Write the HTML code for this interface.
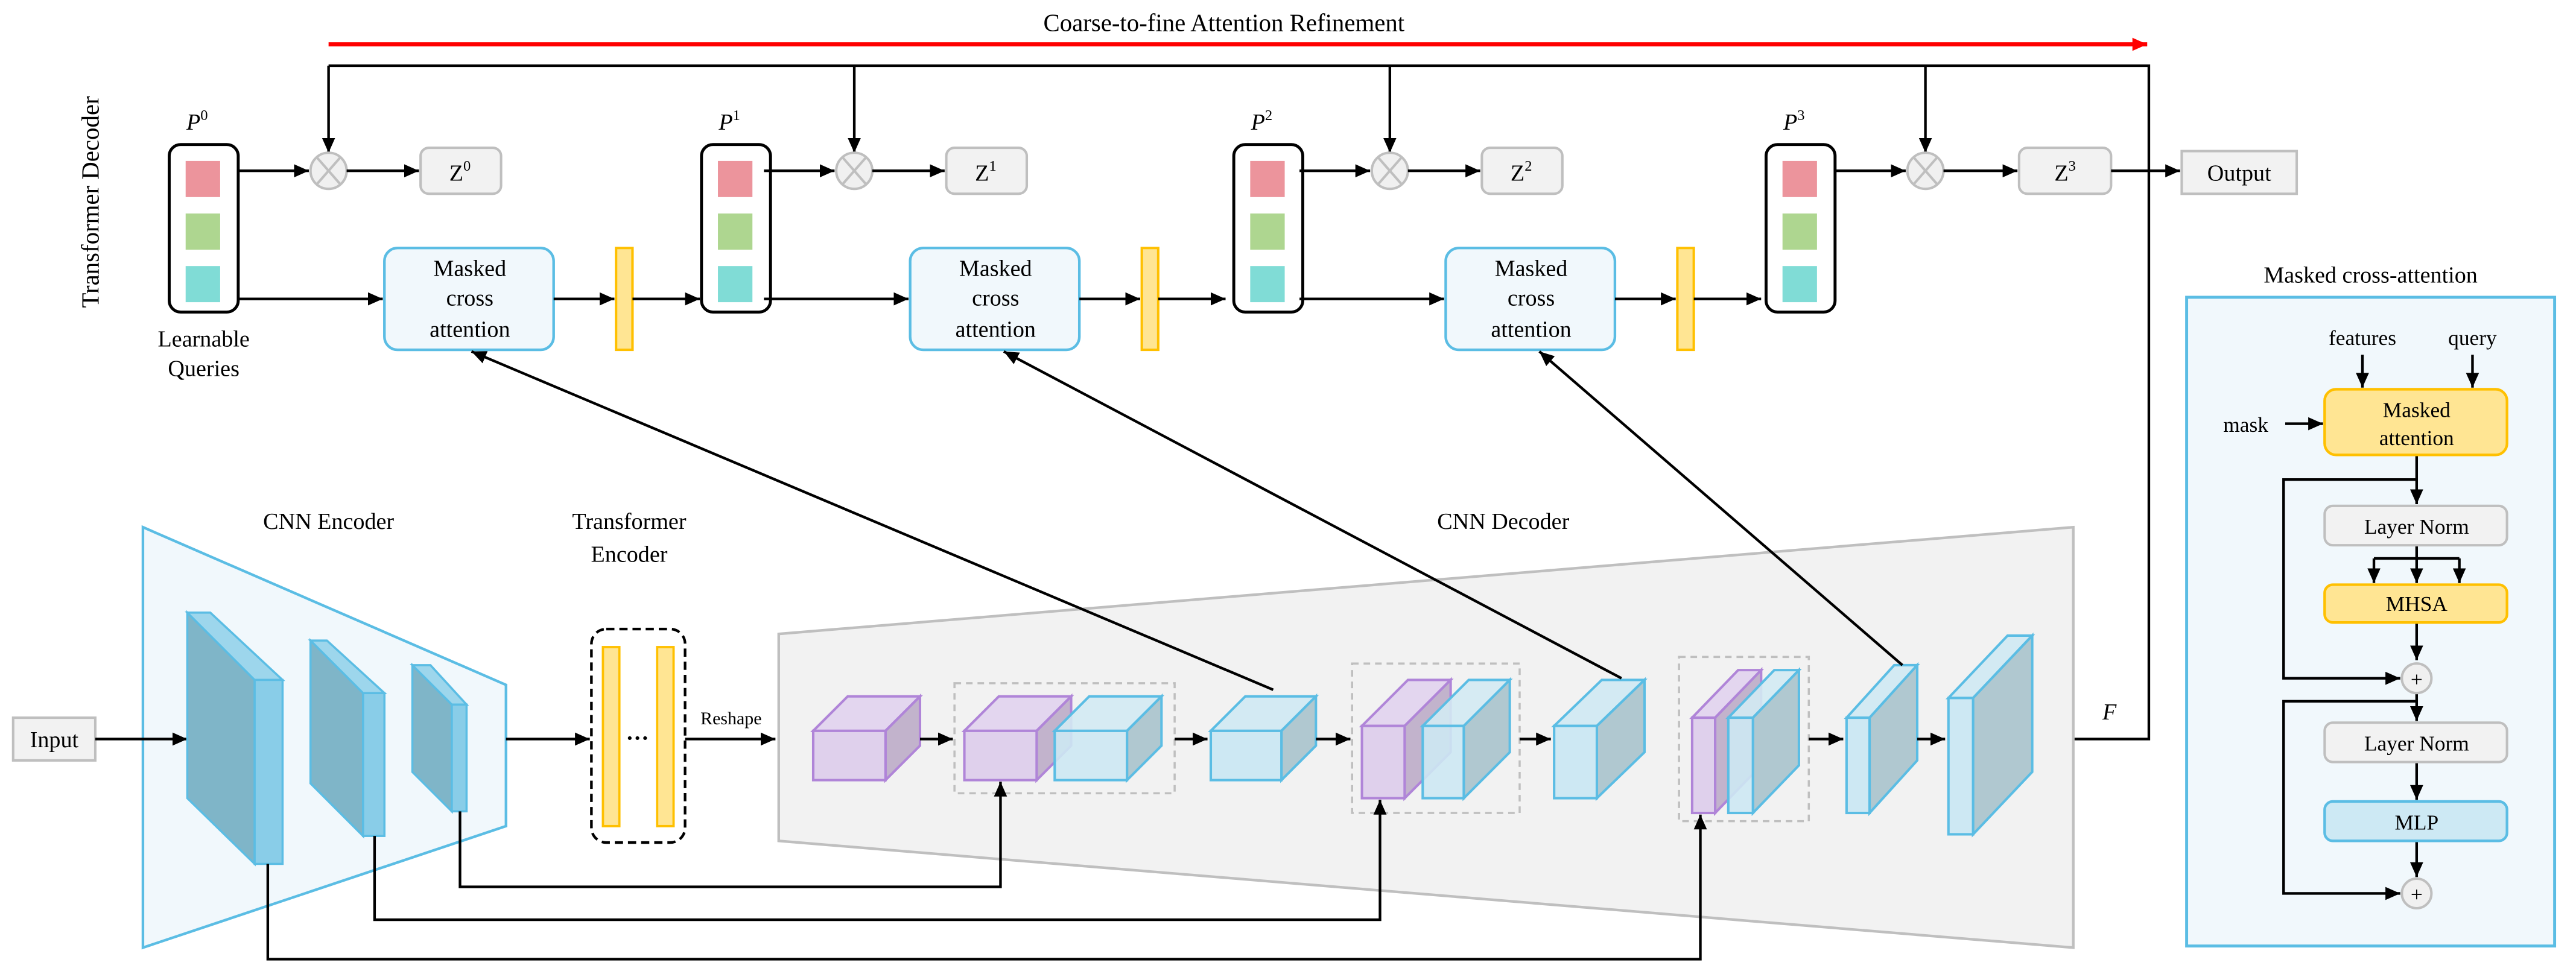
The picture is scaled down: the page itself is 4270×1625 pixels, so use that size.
<!DOCTYPE html>
<html><head><meta charset="utf-8"><style>html,body{margin:0;padding:0;background:#fff}svg{display:block}svg text{font-family:"Liberation Serif","DejaVu Serif",serif}</style></head><body>
<svg width="4270" height="1625" viewBox="0 0 1568 596.7" preserveAspectRatio="none" xmlns="http://www.w3.org/2000/svg">
<defs>
<marker id="a" markerUnits="userSpaceOnUse" markerWidth="10" markerHeight="10" refX="9" refY="5" orient="auto"><path d="M0,1 L9,5 L0,9 Z" fill="#000"/></marker>
<marker id="r" markerUnits="userSpaceOnUse" markerWidth="10" markerHeight="10" refX="9" refY="5" orient="auto"><path d="M0,1 L9,5 L0,9 Z" fill="#f00"/></marker>
</defs>
<text x="745" y="19" font-size="15" text-anchor="middle">Coarse-to-fine Attention Refinement</text>
<line x1="200" y1="27" x2="1307" y2="27" stroke="#f00" stroke-width="2.5" marker-end="url(#r)"/>
<polyline points="1262,450 1308,450 1308,40 200,40" fill="none" stroke="#000" stroke-width="1.6"/>
<g stroke="#000" stroke-width="1.6" marker-end="url(#a)">
<line x1="200" y1="40" x2="200" y2="93"/><line x1="520" y1="40" x2="520" y2="93"/><line x1="846" y1="40" x2="846" y2="93"/><line x1="1172" y1="40" x2="1172" y2="93"/>
</g>
<text transform="translate(60,123) rotate(-90)" font-size="15" text-anchor="middle">Transformer Decoder</text>
<text x="124" y="211" font-size="14" text-anchor="middle">Learnable</text>
<text x="124" y="229" font-size="14" text-anchor="middle">Queries</text>
<g id="q">
<rect x="103" y="88" width="42" height="102" rx="7" fill="#fff" stroke="#000" stroke-width="1.8"/>
<rect x="113" y="98" width="21" height="22" fill="#ec949c"/>
<rect x="113" y="130" width="21" height="22" fill="#aed690"/>
<rect x="113" y="162" width="21" height="22" fill="#80dcd6"/>
</g>
<use href="#q" x="324"/><use href="#q" x="648"/><use href="#q" x="972"/>
<g font-size="14" font-style="italic" text-anchor="middle">
<text x="120" y="79">P<tspan font-size="9" dy="-6" font-style="normal">0</tspan></text>
<text x="444" y="79">P<tspan font-size="9" dy="-6" font-style="normal">1</tspan></text>
<text x="768" y="79">P<tspan font-size="9" dy="-6" font-style="normal">2</tspan></text>
<text x="1092" y="79">P<tspan font-size="9" dy="-6" font-style="normal">3</tspan></text>
</g>
<g id="c">
<ellipse cx="200" cy="104" rx="11" ry="11" fill="#f0f0f0" stroke="#bfbfbf" stroke-width="1.5"/>
<line x1="193" y1="96" x2="207" y2="112" stroke="#bfbfbf" stroke-width="1.5"/><line x1="207" y1="96" x2="193" y2="112" stroke="#bfbfbf" stroke-width="1.5"/>
<line x1="145" y1="104" x2="188" y2="104" stroke="#000" stroke-width="1.6" marker-end="url(#a)"/>
<line x1="211" y1="104" x2="255" y2="104" stroke="#000" stroke-width="1.6" marker-end="url(#a)"/>
<rect x="256" y="90" width="49" height="28" rx="5" fill="#f2f2f2" stroke="#bfbfbf" stroke-width="1.5"/>
<line x1="145" y1="182" x2="233" y2="182" stroke="#000" stroke-width="1.6" marker-end="url(#a)"/>
<rect x="234" y="151" width="103" height="62" rx="8" fill="#f1f8fc" stroke="#5bbde4" stroke-width="1.6"/>
<text x="286" y="168" font-size="14" text-anchor="middle">Masked</text>
<text x="286" y="186" font-size="14" text-anchor="middle">cross</text>
<text x="286" y="205" font-size="14" text-anchor="middle">attention</text>
<line x1="337" y1="182" x2="374" y2="182" stroke="#000" stroke-width="1.6" marker-end="url(#a)"/>
<rect x="375" y="151" width="10" height="62" fill="#ffe593" stroke="#ffc000" stroke-width="1.5"/>
<line x1="385" y1="182" x2="426" y2="182" stroke="#000" stroke-width="1.6" marker-end="url(#a)"/>
</g>
<use href="#c" x="320"/><use href="#c" x="646"/>
<g>
<ellipse cx="1172" cy="104" rx="11" ry="11" fill="#f0f0f0" stroke="#bfbfbf" stroke-width="1.5"/>
<line x1="1165" y1="96" x2="1179" y2="112" stroke="#bfbfbf" stroke-width="1.5"/><line x1="1179" y1="96" x2="1165" y2="112" stroke="#bfbfbf" stroke-width="1.5"/>
<line x1="1117" y1="104" x2="1160" y2="104" stroke="#000" stroke-width="1.6" marker-end="url(#a)"/>
<line x1="1183" y1="104" x2="1228" y2="104" stroke="#000" stroke-width="1.6" marker-end="url(#a)"/>
<rect x="1229" y="90" width="56" height="28" rx="5" fill="#f2f2f2" stroke="#bfbfbf" stroke-width="1.5"/>
<line x1="1285" y1="104" x2="1327" y2="104" stroke="#000" stroke-width="1.6" marker-end="url(#a)"/>
<rect x="1328" y="92" width="70" height="26" fill="#f2f2f2" stroke="#bfbfbf" stroke-width="1.5"/>
<text x="1363" y="110" font-size="14" text-anchor="middle">Output</text>
</g>
<g font-size="14" text-anchor="middle">
<text x="280" y="110">Z<tspan font-size="9" dy="-6">0</tspan></text>
<text x="600" y="110">Z<tspan font-size="9" dy="-6">1</tspan></text>
<text x="926" y="110">Z<tspan font-size="9" dy="-6">2</tspan></text>
<text x="1257" y="110">Z<tspan font-size="9" dy="-6">3</tspan></text>
</g>
<rect x="8" y="437" width="50" height="26" fill="#f2f2f2" stroke="#bfbfbf" stroke-width="1.5"/>
<text x="33" y="455" font-size="14" text-anchor="middle">Input</text>
<polygon points="87,321 308,417 308,503 87,577" fill="#f1f8fc" stroke="#5bbde4" stroke-width="1.6"/>
<text x="200" y="322" font-size="14" text-anchor="middle">CNN Encoder</text>
<line x1="58" y1="450" x2="114" y2="450" stroke="#000" stroke-width="1.6" marker-end="url(#a)"/>
<g stroke="#5bbde4" stroke-width="1.3">
<polygon points="114,373 114,486 155,526 155,414" fill="#7fb5c8"/>
<polygon points="114,373 128,373 172,414 155,414" fill="#9dd6ec"/>
<rect x="155" y="414" width="17" height="112" fill="#89cde8"/>
<polygon points="189,390 189,477 221,509 221,422" fill="#7fb5c8"/>
<polygon points="189,390 199,390 234,422 221,422" fill="#9dd6ec"/>
<rect x="221" y="422" width="13" height="87" fill="#89cde8"/>
<polygon points="251,405 251,470 275,494 275,429" fill="#7fb5c8"/>
<polygon points="251,405 262,405 284,429 275,429" fill="#9dd6ec"/>
<rect x="275" y="429" width="9" height="65" fill="#89cde8"/>
</g>
<text x="383" y="322" font-size="14" text-anchor="middle">Transformer</text>
<text x="383" y="342" font-size="14" text-anchor="middle">Encoder</text>
<line x1="308" y1="450" x2="359" y2="450" stroke="#000" stroke-width="1.6" marker-end="url(#a)"/>
<rect x="360" y="383" width="57" height="130" rx="9" fill="#fff" stroke="#000" stroke-width="1.6" stroke-dasharray="5,3"/>
<rect x="367" y="394" width="10" height="109" fill="#ffe593" stroke="#ffc000" stroke-width="1.4"/>
<rect x="400" y="394" width="10" height="109" fill="#ffe593" stroke="#ffc000" stroke-width="1.4"/>
<text x="388" y="454" font-size="14" text-anchor="middle" font-weight="bold">···</text>
<text x="445" y="441" font-size="11" text-anchor="middle">Reshape</text>
<line x1="417" y1="450" x2="472" y2="450" stroke="#000" stroke-width="1.6" marker-end="url(#a)"/>
<polygon points="474,386 1262,321 1262,577 474,512" fill="#f2f2f2" stroke="#bfbfbf" stroke-width="1.6"/>
<text x="915" y="322" font-size="14" text-anchor="middle">CNN Decoder</text>
<g fill="none" stroke="#bfbfbf" stroke-width="1.3" stroke-dasharray="4,3">
<rect x="581" y="416" width="134" height="67"/>
<rect x="823" y="404" width="102" height="91"/>
<rect x="1022" y="400" width="79" height="100"/>
</g>
<g fill="none" stroke="#000" stroke-width="1.6" marker-end="url(#a)">
<polyline points="280,494 280,540 609,540 609,476"/>
<polyline points="228,509 228,560 840,560 840,487"/>
<polyline points="163,526 163,584 1035,584 1035,496"/>
</g>
<g stroke-width="1.5">
<g stroke="#b085d8"><polygon points="495,445 516,424 560,424 539,445" fill="#e3d6ef"/><polygon points="539,445 560,424 560,454 539,475" fill="#c2b3cc"/><rect x="495" y="445" width="44" height="30" fill="#dfd0ec"/></g>
<g stroke="#b085d8"><polygon points="587,445 608,424 652,424 631,445" fill="#e3d6ef"/><polygon points="631,445 652,424 652,454 631,475" fill="#c2b3cc"/><rect x="587" y="445" width="44" height="30" fill="#dfd0ec"/></g>
<g stroke="#5bbde4"><polygon points="642,445 663,424 707,424 686,445" fill="#d3eaf3" fill-opacity="0.9"/><polygon points="686,445 707,424 707,454 686,475" fill="#b0c8d0"/><rect x="642" y="445" width="44" height="30" fill="#cde8f3" fill-opacity="0.9"/></g>
<g stroke="#5bbde4"><polygon points="737,445 758,424 801,424 780,445" fill="#d3eaf3"/><polygon points="780,445 801,424 801,454 780,475" fill="#b0c8d0"/><rect x="737" y="445" width="43" height="30" fill="#cde8f3"/></g>
<g stroke="#b085d8"><polygon points="829,442 857,414 883,414 855,442" fill="#e3d6ef"/><polygon points="855,442 883,414 883,458 855,486" fill="#c2b3cc"/><rect x="829" y="442" width="26" height="44" fill="#dfd0ec"/></g>
<g stroke="#5bbde4"><polygon points="866,442 894,414 919,414 891,442" fill="#d3eaf3" fill-opacity="0.9"/><polygon points="891,442 919,414 919,458 891,486" fill="#b0c8d0"/><rect x="866" y="442" width="25" height="44" fill="#cde8f3" fill-opacity="0.9"/></g>
<g stroke="#5bbde4"><polygon points="946,442 975,414 1001,414 972,442" fill="#d3eaf3"/><polygon points="972,442 1001,414 1001,458 972,486" fill="#b0c8d0"/><rect x="946" y="442" width="26" height="44" fill="#cde8f3"/></g>
<g stroke="#b085d8"><polygon points="1030,437 1058,408 1072,408 1044,437" fill="#e3d6ef"/><polygon points="1044,437 1072,408 1072,466 1044,495" fill="#c2b3cc"/><rect x="1030" y="437" width="14" height="58" fill="#dfd0ec"/></g>
<g stroke="#5bbde4"><polygon points="1052,437 1080,408 1095,408 1067,437" fill="#d3eaf3" fill-opacity="0.9"/><polygon points="1067,437 1095,408 1095,466 1067,495" fill="#b0c8d0"/><rect x="1052" y="437" width="15" height="58" fill="#cde8f3" fill-opacity="0.9"/></g>
<g stroke="#5bbde4"><polygon points="1124,437 1153,405 1167,405 1138,437" fill="#d3eaf3"/><polygon points="1138,437 1167,405 1167,463 1138,495" fill="#b0c8d0"/><rect x="1124" y="437" width="14" height="58" fill="#cde8f3"/></g>
<g stroke="#5bbde4"><polygon points="1186,425 1222,387 1237,387 1201,425" fill="#d3eaf3"/><polygon points="1201,425 1237,387 1237,470 1201,508" fill="#b0c8d0"/><rect x="1186" y="425" width="15" height="83" fill="#cde8f3"/></g>
</g>
<g stroke="#000" stroke-width="1.6" marker-end="url(#a)">
<line x1="560" y1="450" x2="580" y2="450"/>
<line x1="715" y1="450" x2="735" y2="450"/>
<line x1="801" y1="450" x2="822" y2="450"/>
<line x1="925" y1="450" x2="944" y2="450"/>
<line x1="1101" y1="450" x2="1122" y2="450"/>
<line x1="1167" y1="450" x2="1184" y2="450"/>
<line x1="775" y1="420" x2="287" y2="214"/>
<line x1="987" y1="413" x2="611" y2="214"/>
<line x1="1158" y1="405" x2="937" y2="214"/>
</g>
<text x="1284" y="438" font-size="14" font-style="italic" text-anchor="middle">F</text>
<text x="1443" y="172" font-size="14" text-anchor="middle">Masked cross-attention</text>
<rect x="1331" y="181" width="224" height="395" fill="#f1f8fc" stroke="#5bbde4" stroke-width="1.8"/>
<text x="1438" y="210" font-size="13" text-anchor="middle">features</text>
<text x="1505" y="210" font-size="13" text-anchor="middle">query</text>
<text x="1367" y="263" font-size="13" text-anchor="middle">mask</text>
<g stroke="#000" stroke-width="1.6" marker-end="url(#a)">
<line x1="1438" y1="216" x2="1438" y2="236"/>
<line x1="1505" y1="216" x2="1505" y2="236"/>
<line x1="1391" y1="258" x2="1414" y2="258"/>
<line x1="1471" y1="277" x2="1471" y2="307"/>
<line x1="1471" y1="379" x2="1471" y2="402"/>
<line x1="1471" y1="422" x2="1471" y2="439"/>
<line x1="1471" y1="464" x2="1471" y2="487"/>
<line x1="1471" y1="512" x2="1471" y2="534"/>
<line x1="1445" y1="340" x2="1445" y2="355"/>
<line x1="1471" y1="332" x2="1471" y2="355"/>
<line x1="1497" y1="340" x2="1497" y2="355"/>
</g>
<g fill="none" stroke="#000" stroke-width="1.6">
<line x1="1445" y1="340" x2="1497" y2="340"/>
<polyline points="1471,292 1390,292 1390,413 1461,413" marker-end="url(#a)"/>
<polyline points="1471,427 1390,427 1390,544 1461,544" marker-end="url(#a)"/>
</g>
<rect x="1415" y="237" width="111" height="40" rx="7" fill="#ffe593" stroke="#ffc000" stroke-width="1.6"/>
<text x="1471" y="254" font-size="13" text-anchor="middle">Masked</text>
<text x="1471" y="271" font-size="13" text-anchor="middle">attention</text>
<rect x="1415" y="308" width="111" height="24" rx="5" fill="#f2f2f2" stroke="#bfbfbf" stroke-width="1.5"/>
<text x="1471" y="325" font-size="13" text-anchor="middle">Layer Norm</text>
<rect x="1415" y="356" width="111" height="23" rx="5" fill="#ffe593" stroke="#ffc000" stroke-width="1.6"/>
<text x="1471" y="372" font-size="13" text-anchor="middle">MHSA</text>
<rect x="1415" y="440" width="111" height="24" rx="5" fill="#f2f2f2" stroke="#bfbfbf" stroke-width="1.5"/>
<text x="1471" y="457" font-size="13" text-anchor="middle">Layer Norm</text>
<rect x="1415" y="488" width="111" height="24" rx="5" fill="#cde9f4" stroke="#5bbde4" stroke-width="1.6"/>
<text x="1471" y="505" font-size="13" text-anchor="middle">MLP</text>
<ellipse cx="1471" cy="413" rx="9" ry="9" fill="#f0f0f0" stroke="#bfbfbf" stroke-width="1.5"/>
<text x="1471" y="418" font-size="13" text-anchor="middle">+</text>
<ellipse cx="1471" cy="544" rx="9" ry="9" fill="#f0f0f0" stroke="#bfbfbf" stroke-width="1.5"/>
<text x="1471" y="549" font-size="13" text-anchor="middle">+</text>
</svg>
</body></html>
